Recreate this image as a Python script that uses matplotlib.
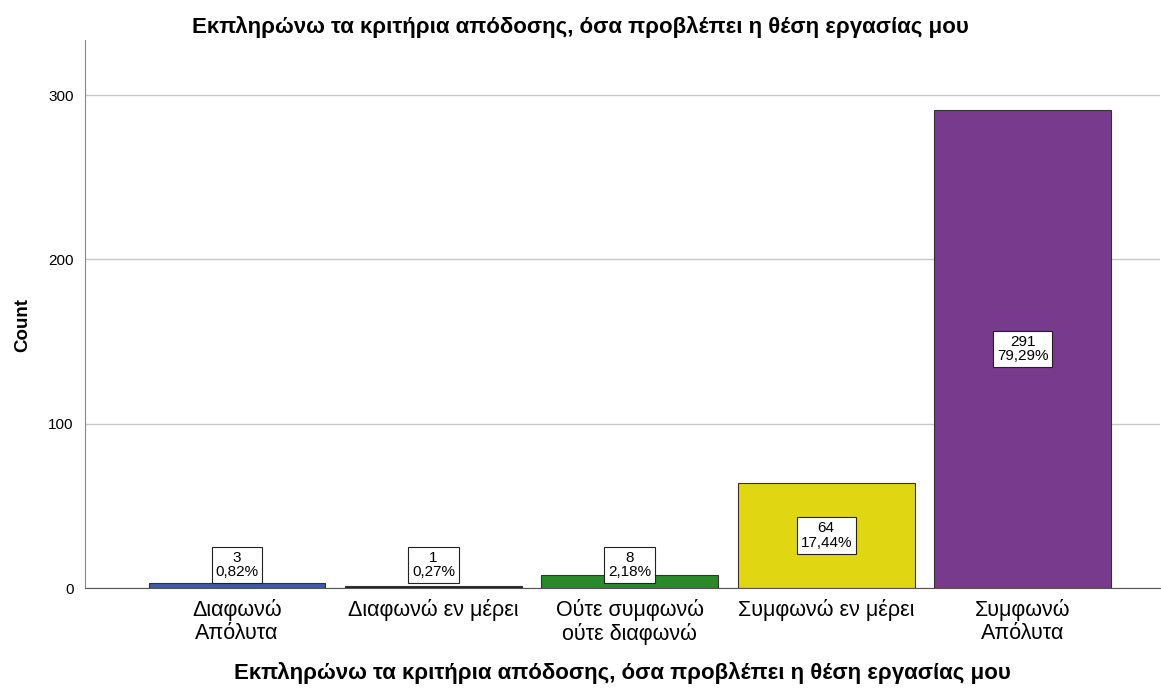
import matplotlib.pyplot as plt
import numpy as np

plt.rcParams['font.family'] = ['Liberation Sans', 'DejaVu Sans']

categories = ['Διαφωνώ\nΑπόλυτα', 'Διαφωνώ εν μέρει', 'Ούτε συμφωνώ\nούτε διαφωνώ',
              'Συμφωνώ εν μέρει', 'Συμφωνώ\nΑπόλυτα']
counts = [3, 1, 8, 64, 291]
percents = ['0,82%', '0,27%', '2,18%', '17,44%', '79,29%']
colors = ['#3e58ac', '#2b1c14', '#2a8a2a', '#e1d612', '#773a8d']
title = 'Εκπληρώνω τα κριτήρια απόδοσης, όσα προβλέπει η θέση εργασίας μου'

fig = plt.figure(figsize=(11.61, 6.91), dpi=100)
ax = fig.add_axes([0.0732, 0.149, 0.926, 0.793])

x = np.arange(len(categories))
ax.bar(x, counts, width=0.9, color=colors, edgecolor='#333333', linewidth=0.8, zorder=3)

# labels: count and percent in a white box
for xi, c, p in zip(x, counts, percents):
    y = max(c / 2, 14)
    ax.text(xi, y, '{}\n{}'.format(c, p), ha='center', va='center', fontsize=11,
            linespacing=1.05, zorder=5,
            bbox=dict(boxstyle='square,pad=0.25', facecolor='white', edgecolor='#222222', linewidth=0.8))

ax.set_xlim(-0.774, 4.70)
ax.set_ylim(0, 333.5)
ax.set_yticks([0, 100, 200, 300])
ax.yaxis.grid(True, color='#c8c8c8', linewidth=1, zorder=0)
ax.set_xticks(x)
ax.set_xticklabels(categories, fontsize=15.5, linespacing=1.1)
ax.tick_params(axis='both', length=0)
ax.tick_params(axis='y', labelsize=11, pad=8)
ax.tick_params(axis='x', pad=8)

for s in ['top', 'right']:
    ax.spines[s].set_visible(False)
ax.spines['left'].set_color('#888888')
ax.spines['bottom'].set_color('#555555')
ax.spines['bottom'].set_zorder(4)

ax.set_ylabel('Count', fontsize=13.5, fontweight='bold')
ax.yaxis.set_label_coords(-0.05, 0.48)
ax.set_xlabel(title, fontsize=16, fontweight='bold', labelpad=12)
fig.text(0.5, 0.961, title, ha='center', va='center', fontsize=16, fontweight='bold')

fig.savefig('out.png', dpi=100)
